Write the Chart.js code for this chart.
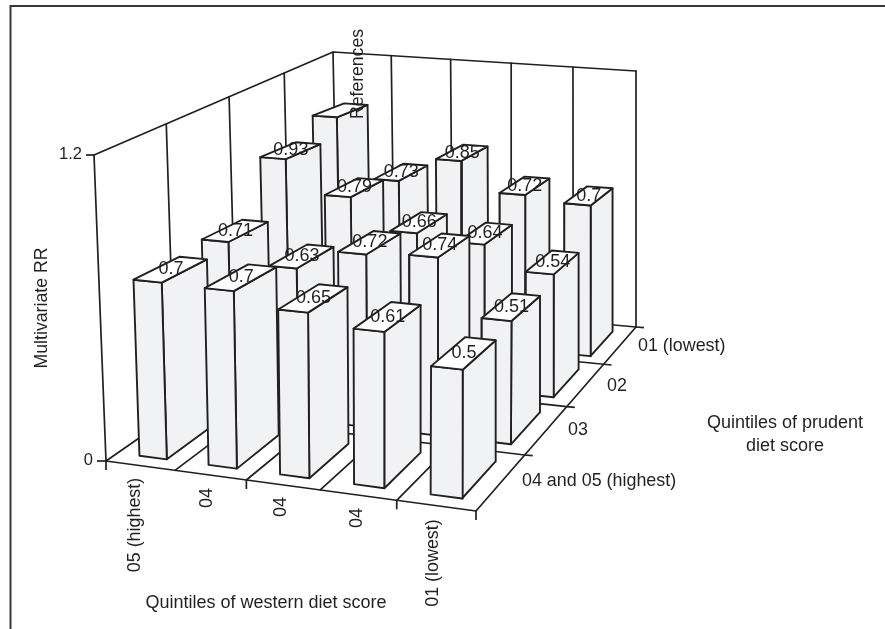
<!DOCTYPE html>
<html>
<head>
<meta charset="utf-8">
<style>html,body{margin:0;padding:0;background:#fff}canvas{display:block}</style>
<script src="https://cdn.jsdelivr.net/npm/chart.js@4/dist/chart.umd.js"></script>
</head>
<body>
<canvas id="c" width="885" height="629"></canvas>
<script>
// ---- data ----
const westernLabels = ['05 (highest)', '04', '04', '04', '01 (lowest)'];
const prudentLabels = ['04 and 05 (highest)', '03', '02', '01 (lowest)'];
const rowHighest = [0.7, 0.7, 0.65, 0.61, 0.5];
const row03 = [0.71, 0.63, 0.72, 0.74, 0.51];
const row02 = [0.93, 0.79, 0.66, 0.64, 0.54];
const row01 = [1.0, 0.73, 0.85, 0.72, 0.7];
const referenceLabel = 'References';
const valueTicks = [0, 1.2];
const rows = [rowHighest, row03, row02, row01];

// ---- projection of the box (floor and 1.2-level corners, in canvas units) ----
const floorQuad = [[106, 461], [476, 511], [636, 327], [338, 300]];
const topQuad = [[94, 155], [478, 187], [636, 71], [333, 52]];
const INK = '#231f20', FACE = '#f1f2f4';
const BAR_W = 0.40, BAR_D = 0.66, BAR_U_SHIFT = 0.02, BAR_V_CENTER = 0.49;
const BAR_BACK_SCALE = 0.985; // apparent height of the bars in the drawing's perspective
const barFrontScale = u => 0.995 - 0.03 * u;

function homography(q) {
  const [[x0, y0], [x1, y1], [x2, y2], [x3, y3]] = q;
  const dx1 = x1 - x2, dx2 = x3 - x2, sx = x0 - x1 + x2 - x3;
  const dy1 = y1 - y2, dy2 = y3 - y2, sy = y0 - y1 + y2 - y3;
  const den = dx1 * dy2 - dx2 * dy1;
  const g = (sx * dy2 - dx2 * sy) / den, h = (dx1 * sy - sx * dy1) / den;
  const a = x1 - x0 + g * x1, b = x3 - x0 + h * x3;
  const d = y1 - y0 + g * y1, e = y3 - y0 + h * y3;
  return (u, v) => {
    const w = g * u + h * v + 1;
    return [(a * u + b * v + x0) / w, (d * u + e * v + y0) / w];
  };
}
const floorH = homography(floorQuad), topH = homography(topQuad);
const NU = westernLabels.length, NV = prudentLabels.length;
const vMax = valueTicks[valueTicks.length - 1];

// (u, v) floor position, f = decimal position on the value scale
function proj(u, v, f) {
  const a = floorH(u, v), b = topH(u, v);
  return { x: a[0] + (b[0] - a[0]) * f, y: a[1] + (b[1] - a[1]) * f };
}

const datasets = [];
function poly(pts, fill, width) {
  datasets.push({
    data: pts, showLine: true, pointRadius: 0, tension: 0, clip: false,
    borderColor: INK, borderWidth: width || 1.9,
    borderJoinStyle: 'round', borderCapStyle: 'round',
    fill: fill ? 'shape' : false, backgroundColor: fill || 'transparent'
  });
}

// walls
poly([proj(0, 0, 1), proj(0, 1, 1), proj(1, 1, 1)], null, 1.7);
for (let j = 0; j <= NV; j++) poly([proj(0, j / NV, 0), proj(0, j / NV, 1)], null, 1.7);
for (let i = 1; i <= NU; i++) poly([proj(i / NU, 1, 0), proj(i / NU, 1, 1)], null, 1.7);
// floor
for (let i = 0; i <= NU; i++) poly([proj(i / NU, 0, 0), proj(i / NU, 1, 0)], null, 1.7);
for (let j = 0; j <= NV; j++) poly([proj(0, j / NV, 0), proj(1, j / NV, 0)], null, 1.7);

// bars, painted from the back row to the front, left to right
const barLabels = [];
const zScale = v => v / vMax;
for (let j = NV - 1; j >= 0; j--) {
  for (let i = 0; i < NU; i++) {
    const f = zScale(rows[j][i]);
    const fF = f * barFrontScale((i + 0.5) / NU), fB = fF * BAR_BACK_SCALE;
    const u0 = (i + 0.5 + BAR_U_SHIFT - BAR_W / 2) / NU, u1 = (i + 0.5 + BAR_U_SHIFT + BAR_W / 2) / NU;
    const v0 = (j + BAR_V_CENTER - BAR_D / 2) / NV, v1 = (j + BAR_V_CENTER + BAR_D / 2) / NV;
    const fb0 = proj(u0, v0, 0), fb1 = proj(u1, v0, 0), bb1 = proj(u1, v1, 0);
    const ft0 = proj(u0, v0, fF), ft1 = proj(u1, v0, fF), bt1 = proj(u1, v1, fB), bt0 = proj(u0, v1, fB);
    poly([fb1, bb1, bt1, ft1, fb1], FACE);        // side face
    poly([fb0, fb1, ft1, ft0, fb0], FACE);        // front face
    poly([ft0, ft1, bt1, bt0, ft0], '#ffffff');   // top face
    barLabels.push({ v: rows[j][i], p: proj((i + 0.5 + BAR_U_SHIFT) / NU, (j + BAR_V_CENTER) / NV, (fF + fB) / 2), ref: j === NV - 1 && i === 0 });
  }
}
datasets.reverse(); // Chart.js paints the first dataset last

const FONT = '"Liberation Sans", Arial, sans-serif';
const textPlugin = {
  id: 'text3d',
  afterDatasetsDraw(chart) {
    const { ctx } = chart;
    const sx = chart.scales.x, sy = chart.scales.y;
    const X = v => sx.getPixelForValue(v), Y = v => sy.getPixelForValue(v);
    const line = (pts, w) => {
      ctx.save(); ctx.strokeStyle = INK; ctx.lineWidth = w || 1.7; ctx.beginPath();
      pts.forEach((p, k) => k ? ctx.lineTo(X(p[0]), Y(p[1])) : ctx.moveTo(X(p[0]), Y(p[1])));
      ctx.stroke(); ctx.restore();
    };
    const text = (s, x, y, size, align, rot) => {
      ctx.save(); ctx.translate(X(x), Y(y)); if (rot) ctx.rotate(rot);
      ctx.font = size + 'px ' + FONT; ctx.fillStyle = INK;
      ctx.textAlign = align || 'center'; ctx.textBaseline = 'middle';
      ctx.fillText(s, 0, 0); ctx.restore();
    };
    // frame
    ctx.save(); ctx.strokeStyle = '#3a3637'; ctx.lineWidth = 2; ctx.beginPath();
    ctx.moveTo(X(10.5), Y(629)); ctx.lineTo(X(10.5), Y(6)); ctx.lineTo(X(885), Y(6)); ctx.stroke(); ctx.restore();

    // axis ticks
    line([[86, 155], [94, 155]]);
    line([[97, 461], [106, 461]]);
    line([[106, 461], [106, 470]]);
    [2, 4, 5].forEach(i => {
      const p = proj(i / NU, 0, 0);
      line([[p.x, p.y], [p.x, p.y + 9]]);
    });
    for (let j = 1; j <= NV; j++) {
      const p = proj(1, j / NV, 0);
      line([[p.x, p.y], [p.x + 8, p.y + 0.7]]);
    }

    // value labels
    barLabels.forEach(b => { if (!b.ref) text(String(b.v), b.p.x, b.p.y, 18); });
    text(referenceLabel, 358, 74, 17.6, 'center', -Math.PI / 2);

    // axis labels
    text(String(valueTicks[1]), 82, 154, 16.5, 'right');
    text(String(valueTicks[0]), 93, 460, 16.5, 'right');
    const wPos = [[135, 525], [207, 498], [281, 507], [357, 518], [433, 563]];
    westernLabels.forEach((s, i) => text(s, wPos[i][0], wPos[i][1], 17.9, 'center', -Math.PI / 2));
    const pPos = [[522, 481], [568, 430], [607, 386], [638, 346]];
    prudentLabels.forEach((s, j) => text(s, pPos[j][0], pPos[j][1], 17.9, 'left'));
    text('Quintiles of western diet score', 266, 603, 18);
    text('Multivariate RR', 42, 308, 17.7, 'center', -Math.PI / 2);
    text('Quintiles of prudent', 785, 423, 18);
    text('diet score', 785, 446, 18);
  }
};

new Chart(document.getElementById('c'), {
  type: 'scatter',
  data: { datasets },
  options: {
    responsive: false, animation: false, events: [],
    layout: { padding: 0 },
    scales: {
      x: { type: 'linear', display: false, min: 0, max: 885 },
      y: { type: 'linear', display: false, min: 0, max: 629, reverse: true }
    },
    plugins: { legend: { display: false }, tooltip: { enabled: false }, filler: { drawTime: 'beforeDatasetDraw' } }
  },
  plugins: [textPlugin]
});
</script>
</body>
</html>
